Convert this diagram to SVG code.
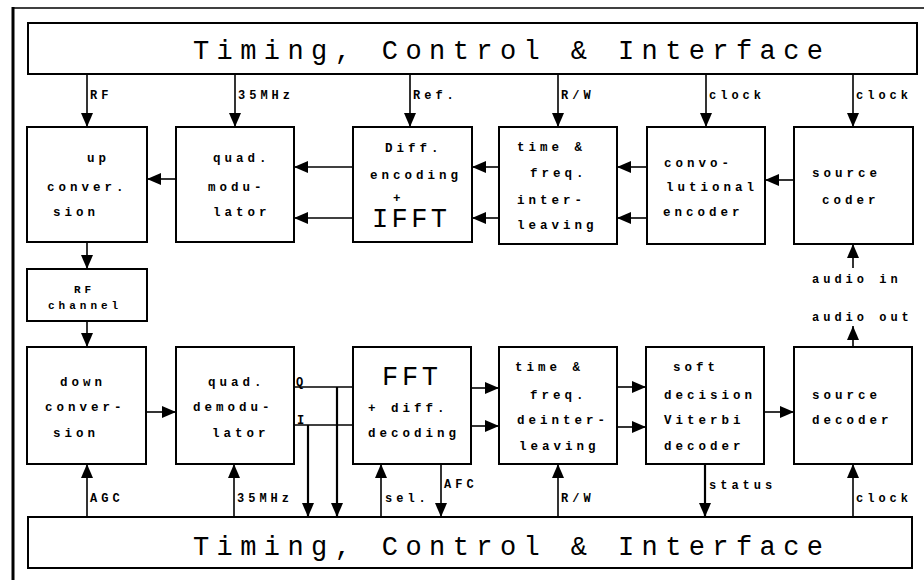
<svg xmlns="http://www.w3.org/2000/svg" width="924" height="580" viewBox="0 0 924 580">
<style>
.bg{fill:#fff}
.box{fill:#fff;stroke:#000;stroke-width:2}
.ln{fill:none;stroke:#000;stroke-width:1.6}
.lnb{fill:none;stroke:#000;stroke-width:2.2}
.t{font-family:"Liberation Mono","DejaVu Sans Mono",monospace;font-size:12.5px;font-weight:bold;letter-spacing:4px;fill:#000}
.l{font-family:"Liberation Mono","DejaVu Sans Mono",monospace;font-size:12px;font-weight:bold;letter-spacing:4px;fill:#000}
.s{font-family:"Liberation Mono","DejaVu Sans Mono",monospace;font-size:11px;font-weight:bold;letter-spacing:4px;fill:#000}
.big{font-family:"Liberation Mono","DejaVu Sans Mono",monospace;font-size:27px;fill:#000}
</style>
<defs>
<marker id="ah" viewBox="0 0 14 12" refX="14" refY="6" markerWidth="14" markerHeight="12" markerUnits="userSpaceOnUse" orient="auto">
<path d="M0,0 L14,6 L0,12 z" fill="#000"/>
</marker>
</defs>
<rect class="bg" x="0" y="0" width="924" height="580"/>
<g id="frame">
<line x1="13" y1="7" x2="13" y2="580" stroke="#000" stroke-width="3"/>
<line x1="13" y1="8" x2="924" y2="8" stroke="#000" stroke-width="1.5"/>
</g>
<g id="top-bar">
<rect class="box" x="28" y="23" width="889" height="51"/>
<text class="big" x="193" y="59" textLength="630" lengthAdjust="spacing">Timing, Control &amp; Interface</text>
</g>
<g id="bottom-bar">
<rect class="box" x="28" y="517" width="884" height="51"/>
<text class="big" x="193" y="555" textLength="630" lengthAdjust="spacing">Timing, Control &amp; Interface</text>
</g>
<g id="up-conversion">
<rect class="box" x="27" y="127" width="120" height="115"/>
<text class="t" x="87" y="162">up</text>
<text class="t" x="47" y="191">conver.</text>
<text class="t" x="53" y="216">sion</text>
</g>
<g id="quad-modulator">
<rect class="box" x="176" y="127" width="118" height="115"/>
<text class="t" x="213" y="162">quad.</text>
<text class="t" x="208" y="191">modu-</text>
<text class="t" x="213" y="216">lator</text>
</g>
<g id="diff-encoding-ifft">
<rect class="box" x="353" y="127" width="119" height="115"/>
<text class="t" x="385" y="152">Diff.</text>
<text class="t" x="370" y="179">encoding</text>
<text class="t" x="393" y="202">+</text>
<text class="big" x="372" y="227" textLength="75" lengthAdjust="spacing">IFFT</text>
</g>
<g id="interleaving">
<rect class="box" x="499" y="127" width="118" height="117"/>
<text class="t" x="517" y="151">time &amp;</text>
<text class="t" x="530" y="177">freq.</text>
<text class="t" x="517" y="204">inter-</text>
<text class="t" x="517" y="229">leaving</text>
</g>
<g id="convolutional-encoder">
<rect class="box" x="647" y="127" width="118" height="117"/>
<text class="t" x="664" y="167">convo-</text>
<text class="t" x="666" y="191">lutional</text>
<text class="t" x="663" y="216">encoder</text>
</g>
<g id="source-coder">
<rect class="box" x="794" y="127" width="119" height="117"/>
<text class="t" x="812" y="177">source</text>
<text class="t" x="822" y="204">coder</text>
</g>
<g id="rf-channel">
<rect class="box" x="27" y="269" width="120" height="52"/>
<text class="s" x="74" y="293">RF</text>
<text class="s" x="48" y="309" letter-spacing="3.5">channel</text>
</g>
<g id="down-conversion">
<rect class="box" x="27" y="347" width="119" height="117"/>
<text class="t" x="60" y="386">down</text>
<text class="t" x="45" y="411">conver-</text>
<text class="t" x="53" y="437">sion</text>
</g>
<g id="quad-demodulator">
<rect class="box" x="176" y="347" width="118" height="117"/>
<text class="t" x="208" y="386">quad.</text>
<text class="t" x="193" y="411">demodu-</text>
<text class="t" x="212" y="437">lator</text>
</g>
<g id="fft-diff-decoding">
<rect class="box" x="353" y="347" width="118" height="117"/>
<text class="big" x="382" y="385" textLength="56" lengthAdjust="spacing">FFT</text>
<text class="t" x="368" y="412">+ diff.</text>
<text class="t" x="368" y="437">decoding</text>
</g>
<g id="deinterleaving">
<rect class="box" x="499" y="347" width="118" height="117"/>
<text class="t" x="515" y="371">time &amp;</text>
<text class="t" x="530" y="399">freq.</text>
<text class="t" x="517" y="424">deinter-</text>
<text class="t" x="519" y="450">leaving</text>
</g>
<g id="viterbi-decoder">
<rect class="box" x="646" y="347" width="118" height="117"/>
<text class="t" x="673" y="371">soft</text>
<text class="t" x="664" y="399">decision</text>
<text class="t" x="664" y="424">Viterbi</text>
<text class="t" x="664" y="450">decoder</text>
</g>
<g id="source-decoder">
<rect class="box" x="794" y="347" width="118" height="117"/>
<text class="t" x="812" y="399">source</text>
<text class="t" x="812" y="424">decoder</text>
</g>
<g id="connectors">
<line class="ln" x1="87" y1="74" x2="87" y2="127" marker-end="url(#ah)"/>
<line class="ln" x1="235" y1="74" x2="235" y2="127" marker-end="url(#ah)"/>
<line class="ln" x1="410" y1="74" x2="410" y2="127" marker-end="url(#ah)"/>
<line class="ln" x1="558" y1="74" x2="558" y2="127" marker-end="url(#ah)"/>
<line class="ln" x1="706" y1="74" x2="706" y2="127" marker-end="url(#ah)"/>
<line class="ln" x1="853" y1="74" x2="853" y2="127" marker-end="url(#ah)"/>
<text class="l" x="90" y="99">RF</text>
<text class="l" x="238" y="99">35MHz</text>
<text class="l" x="413" y="99">Ref.</text>
<text class="l" x="561" y="99">R/W</text>
<text class="l" x="709" y="99">clock</text>
<text class="l" x="856" y="99">clock</text>
<line class="ln" x1="794" y1="180" x2="765" y2="180" marker-end="url(#ah)"/>
<line class="ln" x1="647" y1="167" x2="617" y2="167" marker-end="url(#ah)"/>
<line class="ln" x1="647" y1="218" x2="617" y2="218" marker-end="url(#ah)"/>
<line class="ln" x1="499" y1="167" x2="472" y2="167" marker-end="url(#ah)"/>
<line class="ln" x1="499" y1="218" x2="472" y2="218" marker-end="url(#ah)"/>
<line class="ln" x1="353" y1="167" x2="294" y2="167" marker-end="url(#ah)"/>
<line class="ln" x1="353" y1="218" x2="294" y2="218" marker-end="url(#ah)"/>
<line class="ln" x1="176" y1="179" x2="147" y2="179" marker-end="url(#ah)"/>
<line class="ln" x1="87" y1="242" x2="87" y2="269" marker-end="url(#ah)"/>
<line class="ln" x1="87" y1="321" x2="87" y2="347" marker-end="url(#ah)"/>
<line class="ln" x1="853" y1="268" x2="853" y2="244" marker-end="url(#ah)"/>
<text class="l" x="812" y="283">audio in</text>
<line class="ln" x1="853" y1="347" x2="853" y2="326" marker-end="url(#ah)"/>
<text class="l" x="812" y="321">audio out</text>
<line class="ln" x1="146" y1="412" x2="176" y2="412" marker-end="url(#ah)"/>
<line class="ln" x1="294" y1="387" x2="353" y2="387"/>
<line class="ln" x1="294" y1="425" x2="353" y2="425"/>
<text class="l" x="296" y="386">Q</text>
<text class="l" x="297" y="424">I</text>
<line class="lnb" x1="308" y1="425" x2="308" y2="517" marker-end="url(#ah)"/>
<line class="lnb" x1="337" y1="387" x2="337" y2="517" marker-end="url(#ah)"/>
<line class="ln" x1="471" y1="388" x2="499" y2="388" marker-end="url(#ah)"/>
<line class="ln" x1="471" y1="426" x2="499" y2="426" marker-end="url(#ah)"/>
<line class="ln" x1="617" y1="387" x2="646" y2="387" marker-end="url(#ah)"/>
<line class="ln" x1="617" y1="427" x2="646" y2="427" marker-end="url(#ah)"/>
<line class="ln" x1="764" y1="412" x2="794" y2="412" marker-end="url(#ah)"/>
<line class="ln" x1="87" y1="517" x2="87" y2="464" marker-end="url(#ah)"/>
<text class="l" x="90" y="502">AGC</text>
<line class="ln" x1="234" y1="517" x2="234" y2="464" marker-end="url(#ah)"/>
<text class="l" x="237" y="502">35MHz</text>
<line class="ln" x1="381" y1="517" x2="381" y2="464" marker-end="url(#ah)"/>
<text class="l" x="385" y="502">sel.</text>
<line class="ln" x1="441" y1="464" x2="441" y2="517" marker-end="url(#ah)"/>
<text class="l" x="444" y="488">AFC</text>
<line class="ln" x1="558" y1="517" x2="558" y2="464" marker-end="url(#ah)"/>
<text class="l" x="561" y="502">R/W</text>
<line class="lnb" x1="705" y1="464" x2="705" y2="517" marker-end="url(#ah)"/>
<text class="l" x="709" y="489">status</text>
<line class="ln" x1="853" y1="517" x2="853" y2="464" marker-end="url(#ah)"/>
<text class="l" x="856" y="502">clock</text>
</g>
</svg>
